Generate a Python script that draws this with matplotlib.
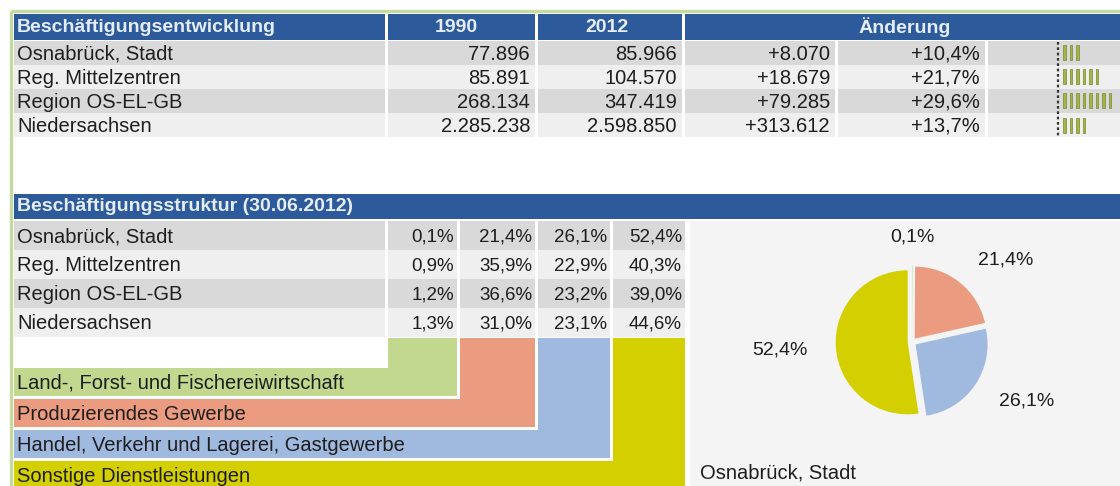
import matplotlib.pyplot as plt
from matplotlib.patches import Rectangle

plt.rcParams['font.family'] = ['Liberation Sans', 'DejaVu Sans']

# Daten
regionen = ["Osnabrück, Stadt", "Reg. Mittelzentren", "Region OS-EL-GB", "Niedersachsen"]
jahr_a = "1990"
jahr_b = "2012"
besch_1990 = [77896, 85891, 268134, 2285238]
besch_2012 = [85966, 104570, 347419, 2598850]
aend_abs = [8070, 18679, 79285, 313612]
aend_pct = [10.4, 21.7, 29.6, 13.7]

sektoren = ["Land-, Forst- und Fischereiwirtschaft", "Produzierendes Gewerbe",
            "Handel, Verkehr und Lagerei, Gastgewerbe", "Sonstige Dienstleistungen"]
anteile_osnabrueck = [0.1, 21.4, 26.1, 52.4]
anteile_mittelzentren = [0.9, 35.9, 22.9, 40.3]
anteile_region = [1.2, 36.6, 23.2, 39.0]
anteile_nds = [1.3, 31.0, 23.1, 44.6]
anteile = [anteile_osnabrueck, anteile_mittelzentren, anteile_region, anteile_nds]

# Farben
BLAU = "#2d5a9b"
HEADTXT = "#e4edf8"
GRAU = "#d9d9d9"
HELL = "#efefef"
RAHMEN = "#c6d99f"
TXT = "#1e1e1e"
sektor_farben = ["#c2d88e", "#eb9b7f", "#9fb9df", "#d4cf00"]
FS = 14.5


def zahl(v):
    return f"{v:,}".replace(",", ".")


def prozent(v, plus=False):
    s = f"{v:+.1f}%" if plus else f"{v:.1f}%"
    return s.replace(".", ",")


def rect(ax, x0, y0, x1, y1, color, z=1):
    ax.add_patch(Rectangle((x0, y0), x1 - x0, y1 - y0, facecolor=color, edgecolor="none", zorder=z))


fig = plt.figure(figsize=(11.2, 4.86), dpi=100)
ax = fig.add_axes([0, 0, 1, 1])
ax.set_xlim(0, 1120)
ax.set_ylim(486, 0)
ax.axis("off")

# Rahmen
ax.plot([11, 1120], [11, 11], color=RAHMEN, lw=2.4, solid_capstyle="butt")
ax.plot([11, 11], [11, 486], color=RAHMEN, lw=2.4, solid_capstyle="butt")

# ---- Beschäftigungsentwicklung ----
spalten = [(14, 385), (388, 535), (538, 682), (685, 835), (838, 985), (988, 1120)]
rect(ax, 14, 14, 385, 40, BLAU)
rect(ax, 388, 14, 535, 40, BLAU)
rect(ax, 538, 14, 682, 40, BLAU)
rect(ax, 685, 14, 1120, 40, BLAU)
ax.text(17, 27, "Beschäftigungsentwicklung", color=HEADTXT, fontsize=14, fontweight="bold", va="center")
ax.text(456, 27, jahr_a, color=HEADTXT, fontsize=14, fontweight="bold", va="center", ha="center")
ax.text(607, 27, jahr_b, color=HEADTXT, fontsize=14, fontweight="bold", va="center", ha="center")
ax.text(905, 27, "Änderung", color=HEADTXT, fontsize=14, fontweight="bold", va="center", ha="center")

zeile_h = 24
for i, name in enumerate(regionen):
    y0 = 41 + i * zeile_h
    bg = GRAU if i % 2 == 0 else HELL
    for (x0, x1) in spalten:
        rect(ax, x0, y0, x1, y0 + zeile_h, bg)
    yc = y0 + zeile_h / 2 + 1
    werte = [zahl(besch_1990[i]), zahl(besch_2012[i]), "+" + zahl(aend_abs[i]), prozent(aend_pct[i], True)]
    ax.text(17, yc, name, fontsize=FS, va="center", color=TXT)
    for (x0, x1), w in zip(spalten[1:5], werte):
        ax.text(x1 - 5, yc, w, fontsize=FS, va="center", ha="right", color=TXT)
    # kleine Balken
    n = int(aend_pct[i] / 3.3)
    xs = [1063 + 6.5 * k for k in range(n)]
    ax.bar(xs, [15] * n, width=2.6, bottom=y0 + 4.5, align="edge",
           color="#a3b548", edgecolor="#76892c", linewidth=0.5, zorder=3)

ax.plot([1058, 1058], [42, 136], color="#333333", lw=1.6, linestyle=(0, (1.2, 1.2)), zorder=4)

# ---- Beschäftigungsstruktur ----
rect(ax, 14, 194, 1120, 219, BLAU)
ax.text(17, 206.5, "Beschäftigungsstruktur (30.06.2012)", color=HEADTXT, fontsize=14,
        fontweight="bold", va="center")

rect(ax, 690, 221, 1120, 486, "#f4f4f4")

spalten2 = [(14, 385), (388, 457), (460, 535), (538, 610), (613, 685)]
zeile2_h = 29
for i, name in enumerate(regionen):
    y0 = 221 + i * zeile2_h
    bg = GRAU if i % 2 == 0 else HELL
    for (x0, x1) in spalten2:
        rect(ax, x0, y0, x1, y0 + zeile2_h, bg)
    yc = y0 + zeile2_h / 2 + 1
    ax.text(17, yc, name, fontsize=FS, va="center", color=TXT)
    for (x0, x1), v in zip(spalten2[1:], anteile[i]):
        ax.text(x1 - 3, yc, prozent(v), fontsize=FS - 1, va="center", ha="right", color=TXT)

# Legende als Treppe
tab_unten = 221 + 4 * zeile2_h + 1
for k, (sektor, farbe) in enumerate(zip(sektoren, sektor_farben)):
    x0, x1 = spalten2[k + 1]
    b_top = 368 + 31 * k
    b_bot = b_top + 28
    rect(ax, x0, tab_unten, x1, b_bot, farbe)
    rect(ax, 14, b_top, x1, b_bot, farbe)
    ax.text(17, b_top + 15, sektor, fontsize=FS, va="center", color=TXT)

# Kreisdiagramm
cx, cy, r = 912, 342, 72
pax = fig.add_axes([(cx - 110) / 1120, 1 - (cy + 110) / 486, 220 / 1120, 220 / 486])
labels = [prozent(v) for v in anteile_osnabrueck]
wedges, texts = pax.pie(anteile_osnabrueck, colors=sektor_farben, startangle=90, counterclock=False,
                        explode=[0.06] * 4, labels=labels, labeldistance=1.4,
                        textprops={"fontsize": 14, "color": TXT}, wedgeprops={"linewidth": 0})
pax.set_xlim(-110 / r, 110 / r)
pax.set_ylim(-110 / r, 110 / r)
pax.set_aspect("equal")
pax.axis("off")
texts[0].set_ha("center")
ax.text(700, 473, regionen[0], fontsize=FS, va="center", color=TXT)

fig.savefig("out.png", dpi=100)
